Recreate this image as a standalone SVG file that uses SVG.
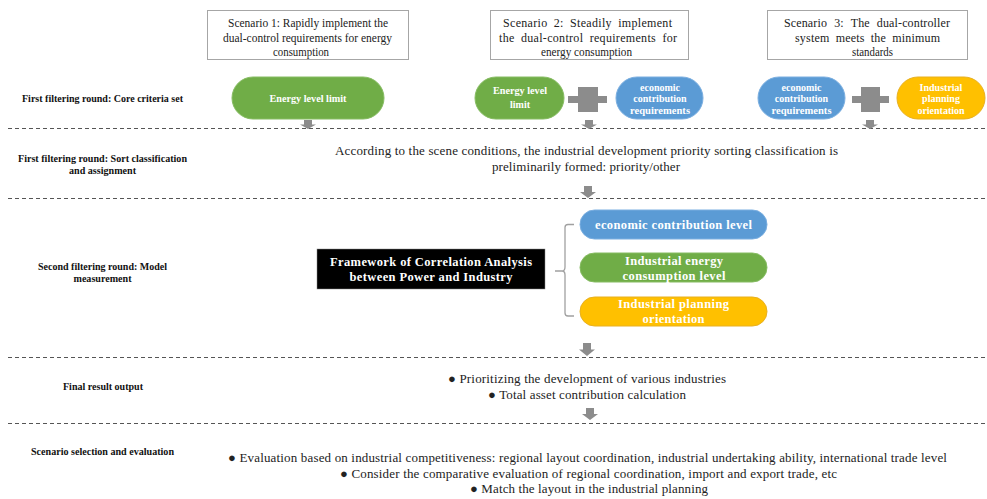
<svg xmlns="http://www.w3.org/2000/svg" xmlns:xlink="http://www.w3.org/1999/xlink" width="987" height="499" viewBox="0 0 987 499">
<style>
text{font-family:'Liberation Serif','Times New Roman','DejaVu Serif',serif}
.lbl{font-weight:bold;font-size:10px;fill:#111;text-anchor:middle}
.txt{font-size:13px;fill:#222}
.b1{font-size:11.5px;fill:#222}
.b2{font-size:12px;fill:#222}
.box{fill:#fff;stroke:#a6a6a6;stroke-width:1}
.pt{font-weight:bold;fill:#fff;text-anchor:middle}
.s10{font-size:10px}
.s12{font-size:12.5px}
.green{fill:#70ad47;stroke:#86bc62;stroke-width:1}
.blue{fill:#5b9bd5;stroke:#7aaee0;stroke-width:1}
.yellow{fill:#ffc000;stroke:#e8b020;stroke-width:1}
.dash{stroke:#555;stroke-width:1;stroke-dasharray:4 3}
.arr{fill:#8c8c8c}
.plus{fill:#8c8c8c}
.brk{fill:none;stroke:#a0a0a0;stroke-width:1.3}
</style>
<defs>
<path id="arrow" d="M-4,0 H4 V5 H8 L0,10 L-8,5 H-4 Z"/>
</defs>
<rect width="987" height="499" fill="#fff"/>

<g id="separators">
<line class="dash" x1="8" y1="128.5" x2="986" y2="128.5"/>
<line class="dash" x1="8" y1="198.5" x2="986" y2="198.5"/>
<line class="dash" x1="8" y1="357.5" x2="986" y2="357.5"/>
<line class="dash" x1="8" y1="423.5" x2="986" y2="423.5"/>
</g>

<g id="row-labels">
<text class="lbl" x="102.5" y="102" textLength="161" lengthAdjust="spacingAndGlyphs">First filtering round: Core criteria set</text>
<text class="lbl" x="102.5" y="162" textLength="169" lengthAdjust="spacingAndGlyphs">First filtering round: Sort classification</text>
<text class="lbl" x="102.5" y="174" textLength="67" lengthAdjust="spacingAndGlyphs">and assignment</text>
<text class="lbl" x="102.5" y="270" textLength="129" lengthAdjust="spacingAndGlyphs">Second filtering round: Model</text>
<text class="lbl" x="102.5" y="282" textLength="58" lengthAdjust="spacingAndGlyphs">measurement</text>
<text class="lbl" x="103" y="390" textLength="80" lengthAdjust="spacingAndGlyphs">Final result output</text>
<text class="lbl" x="102.5" y="455" textLength="143" lengthAdjust="spacingAndGlyphs">Scenario selection and evaluation</text>
</g>

<g id="scenario1">
<rect class="box" x="207.5" y="10.5" width="201" height="49"/>
<text class="b1" x="228" y="27" textLength="160" lengthAdjust="spacingAndGlyphs">Scenario 1: Rapidly implement the</text>
<text class="b1" x="223" y="41.5" textLength="169" lengthAdjust="spacingAndGlyphs">dual-control requirements for energy</text>
<text class="b1" x="273" y="55.5" textLength="56" lengthAdjust="spacingAndGlyphs">consumption</text>
</g>
<g id="scenario2">
<rect class="box" x="490.5" y="10.5" width="198" height="49"/>
<text class="b2" x="503" y="27" textLength="169" lengthAdjust="spacing" word-spacing="3">Scenario 2: Steadily implement</text>
<text class="b2" x="499" y="41.5" textLength="178" lengthAdjust="spacing" word-spacing="3">the dual-control requirements for</text>
<text class="b2" x="541" y="55.5" textLength="91" lengthAdjust="spacingAndGlyphs">energy consumption</text>
</g>
<g id="scenario3">
<rect class="box" x="767.5" y="10.5" width="200" height="49"/>
<text class="b2" x="784" y="27" textLength="166" lengthAdjust="spacing" word-spacing="4">Scenario 3: The dual-controller</text>
<text class="b2" x="795" y="41.5" textLength="145" lengthAdjust="spacing" word-spacing="3">system meets the minimum</text>
<text class="b2" x="852" y="55.5" textLength="41" lengthAdjust="spacingAndGlyphs">standards</text>
</g>

<g id="s1-energy-level-limit">
<rect class="green" x="232" y="77" width="152" height="42" rx="21"/>
<text class="pt s10" x="308" y="101.5" textLength="77" lengthAdjust="spacingAndGlyphs">Energy level limit</text>
</g>
<g id="s2-energy-level-limit">
<rect class="green" x="475" y="77" width="89" height="42" rx="21"/>
<text class="pt s10" x="520" y="94" textLength="54" lengthAdjust="spacingAndGlyphs">Energy level</text>
<text class="pt s10" x="520" y="108">limit</text>
</g>
<g id="s2-plus">
<rect class="plus" x="568" y="96" width="39" height="7"/>
<rect class="plus" x="578" y="87" width="20" height="25"/>
</g>
<g id="s2-economic-contribution">
<rect class="blue" x="616" y="77" width="87" height="42" rx="21"/>
<text class="pt s10" x="660" y="90.5">economic</text>
<text class="pt s10" x="660" y="102">contribution</text>
<text class="pt s10" x="660" y="113.5" textLength="60" lengthAdjust="spacingAndGlyphs">requirements</text>
</g>
<g id="s3-economic-contribution">
<rect class="blue" x="758" y="77" width="87" height="42" rx="21"/>
<text class="pt s10" x="801.5" y="90.5">economic</text>
<text class="pt s10" x="801.5" y="102">contribution</text>
<text class="pt s10" x="801.5" y="113.5" textLength="60" lengthAdjust="spacingAndGlyphs">requirements</text>
</g>
<g id="s3-plus">
<rect class="plus" x="852" y="96" width="37" height="7"/>
<rect class="plus" x="861" y="87" width="19" height="25"/>
</g>
<g id="s3-industrial-planning">
<rect class="yellow" x="897" y="77" width="88" height="42" rx="21"/>
<text class="pt s10" x="941" y="90.5">Industrial</text>
<text class="pt s10" x="941" y="102">planning</text>
<text class="pt s10" x="941" y="113.5">orientation</text>
</g>

<g id="classification">
<text class="txt" x="335" y="155" textLength="503" lengthAdjust="spacing">According to the scene conditions, the industrial development priority sorting classification is</text>
<text class="txt" x="492" y="171" textLength="188" lengthAdjust="spacing">preliminarily formed: priority/other</text>
</g>

<g id="framework">
<rect x="317" y="249" width="228" height="40" fill="#000" stroke="#888" stroke-width="0.5"/>
<text class="pt s12" x="431" y="266" textLength="202" lengthAdjust="spacing">Framework of Correlation Analysis</text>
<text class="pt s12" x="431" y="281" textLength="163" lengthAdjust="spacing">between Power and Industry</text>
</g>
<g id="economic-contribution-level">
<rect class="blue" x="580" y="210" width="187" height="29" rx="14.5"/>
<text class="pt s12" x="673.5" y="229" textLength="157" lengthAdjust="spacing">economic contribution level</text>
</g>
<g id="industrial-energy-consumption">
<rect class="green" x="580" y="253" width="187" height="29" rx="14.5"/>
<text class="pt s12" x="674" y="265" textLength="98" lengthAdjust="spacing">Industrial energy</text>
<text class="pt s12" x="674" y="280" textLength="103" lengthAdjust="spacing">consumption level</text>
</g>
<g id="industrial-planning-orientation">
<rect class="yellow" x="580" y="297" width="187" height="29" rx="14.5"/>
<text class="pt s12" x="673.5" y="308" textLength="111" lengthAdjust="spacing">Industrial planning</text>
<text class="pt s12" x="673.5" y="323" textLength="62" lengthAdjust="spacing">orientation</text>
</g>

<g id="final-result">
<text class="txt" x="448" y="383" textLength="278" lengthAdjust="spacing">● Prioritizing the development of various industries</text>
<text class="txt" x="488" y="399" textLength="198" lengthAdjust="spacing">● Total asset contribution calculation</text>
</g>

<g id="scenario-evaluation">
<text class="txt" x="228" y="462" textLength="719" lengthAdjust="spacing">● Evaluation based on industrial competitiveness: regional layout coordination, industrial undertaking ability, international trade level</text>
<text class="txt" x="340" y="478" textLength="497" lengthAdjust="spacing">● Consider the comparative evaluation of regional coordination, import and export trade, etc</text>
<text class="txt" x="470" y="493" textLength="238" lengthAdjust="spacing">● Match the layout in the industrial planning</text>
</g>

<g id="connectors">
<use href="#arrow" class="arr" transform="translate(308,120) scale(1,0.9)"/>
<use href="#arrow" class="arr" transform="translate(589,120) scale(1,0.9)"/>
<use href="#arrow" class="arr" transform="translate(870,120) scale(1,0.9)"/>
<use href="#arrow" class="arr" transform="translate(588,186) scale(1,1.2)"/>
<use href="#arrow" class="arr" transform="translate(587,343) scale(1,1.3)"/>
<use href="#arrow" class="arr" transform="translate(590,408) scale(1,1.2)"/>
<path class="brk" d="M574,224.5 H568 Q565,224.5 565,227.5 V267 Q565,271 562,271 H555 M562,271 Q565,271 565,275 V313 Q565,316 568,316 H574"/>
</g>
</svg>
